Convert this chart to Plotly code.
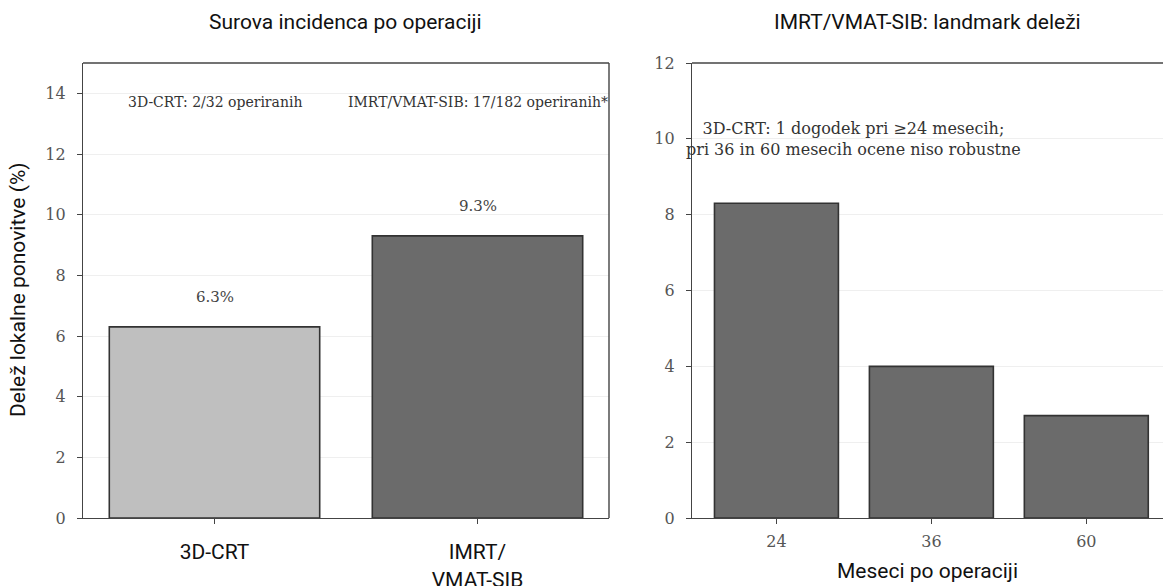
import plotly.graph_objects as go

# Crude incidence by treatment technique
techniques = ["3D-CRT", "IMRT/<br>VMAT-SIB"]
crude_pct = [6.3, 9.3]
crude_labels = ["6.3%", "9.3%"]
crude_notes = ["3D-CRT: 2/32 operiranih", "IMRT/VMAT-SIB: 17/182 operiranih*"]

# IMRT/VMAT-SIB landmark proportions
months = ["24", "36", "60"]
landmark_pct = [8.3, 4.0, 2.7]
landmark_labels = ["8.3%", "4.0%", "2.7%"]
landmark_note = "3D-CRT: 1 dogodek pri ≥24 mesecih;<br>pri 36 in 60 mesecih ocene niso robustne"

W, H = 1163, 586
TOP, BOTTOM = 63, 518          # plot area edges in pixels
PLOT_H = BOTTOM - TOP
SANS = "Roboto"
SERIF = "DejaVu Serif"
LIGHT = "#bfbfbf"
DARK = "#6b6b6b"
EDGE = "#333333"
AXIS = "#444444"


def py(px):
    """Pixel row -> paper y (paper coords span the plot area)."""
    return (BOTTOM - px) / PLOT_H


fig = go.Figure()

fig.add_trace(go.Bar(
    x=techniques, y=crude_pct, width=0.8,
    marker=dict(color=[LIGHT, DARK], line=dict(color=EDGE, width=1.6)),
    xaxis="x", yaxis="y", showlegend=False, hoverinfo="skip",
))
fig.add_trace(go.Bar(
    x=months, y=landmark_pct, width=0.8,
    marker=dict(color=DARK, line=dict(color=EDGE, width=1.6)),
    xaxis="x2", yaxis="y2", showlegend=False, hoverinfo="skip",
))

left_dom = [83 / W, 609 / W]
right_dom = [692 / W, 1.0]

common_y = dict(
    showline=True, linecolor=AXIS, linewidth=1.4,
    ticks="outside", ticklen=5, tickcolor=AXIS, tickwidth=1.2,
    showgrid=True, gridcolor="#efefef", gridwidth=1,
    tickfont=dict(family=SERIF, size=16, color="#555"),
    ticklabelstandoff=8, automargin=False,
    zeroline=False, dtick=2,
)
common_x = dict(
    showline=True, linecolor=AXIS, linewidth=1.4,
    ticks="outside", ticklen=5, tickcolor=AXIS, tickwidth=1.2,
    showgrid=False, zeroline=False, type="category", automargin=False,
)

annotations = []
for i, (v, t) in enumerate(zip(crude_pct, crude_labels)):
    annotations.append(dict(x=techniques[i], y=v, xref="x", yref="y", text=t,
                            showarrow=False, yshift=30,
                            font=dict(family=SERIF, size=15, color="#444")))
for i, t in enumerate(crude_notes):
    annotations.append(dict(x=techniques[i], y=13.7, xref="x", yref="y", text=t,
                            showarrow=False,
                            font=dict(family=SERIF, size=14, color="#333")))
for i, (v, t) in enumerate(zip(landmark_pct, landmark_labels)):
    annotations.append(dict(x=months[i], y=v, xref="x2", yref="y2", text=t,
                            showarrow=False, yshift=23,
                            font=dict(family=SERIF, size=15, color="#444")))
annotations.append(dict(x=0.5, y=10.0, xref="x2", yref="y2", text=landmark_note,
                        showarrow=False, align="center",
                        font=dict(family=SERIF, size=16, color="#333")))

# Panel titles and axis titles
title_font = dict(family=SANS, size=21, color="#111")
annotations += [
    dict(x=(left_dom[0] + left_dom[1]) / 2, y=py(22), xref="paper", yref="paper",
         xanchor="center", yanchor="middle",
         text="Surova incidenca po operaciji", showarrow=False, font=title_font),
    dict(x=(right_dom[0] + right_dom[1]) / 2, y=py(22), xref="paper", yref="paper",
         xanchor="center", yanchor="middle",
         text="IMRT/VMAT-SIB: landmark deleži", showarrow=False, font=title_font),
    dict(x=18 / W, y=py(290), xref="paper", yref="paper", textangle=-90,
         xanchor="center", yanchor="middle",
         text="Delež lokalne ponovitve (%)", showarrow=False, font=title_font),
    dict(x=(right_dom[0] + right_dom[1]) / 2, y=py(571), xref="paper", yref="paper",
         xanchor="center", yanchor="middle",
         text="Meseci po operaciji", showarrow=False, font=title_font),
]

shapes = [
    # frame of the left panel (top and right edges)
    dict(type="line", xref="x domain", yref="y domain", x0=0, x1=1, y0=1, y1=1,
         line=dict(color=AXIS, width=1.4)),
    dict(type="line", xref="x domain", yref="y domain", x0=1, x1=1, y0=0, y1=1,
         line=dict(color=AXIS, width=1.4)),
    # top edge of the right panel
    dict(type="line", xref="x2 domain", yref="y2 domain", x0=0, x1=1, y0=1, y1=1,
         line=dict(color=AXIS, width=1.4)),
]

fig.update_layout(
    width=W, height=H,
    margin=dict(l=0, r=0, t=TOP, b=H - BOTTOM),
    paper_bgcolor="white", plot_bgcolor="white",
    bargap=0.2,
    xaxis=dict(domain=left_dom, anchor="y", range=[-0.5, 1.5],
               tickfont=dict(family=SANS, size=21, color="#111"),
               ticklabelstandoff=10, **common_x),
    yaxis=dict(domain=[0, 1], anchor="x", range=[0, 15], **common_y),
    xaxis2=dict(domain=right_dom, anchor="y2", range=[-0.545, 2.495],
                tickfont=dict(family=SERIF, size=16, color="#555"),
                ticklabelstandoff=4, **common_x),
    yaxis2=dict(domain=[0, 1], anchor="x2", range=[0, 12], **common_y),
    annotations=annotations,
    shapes=shapes,
)

fig.write_html("out.html")
